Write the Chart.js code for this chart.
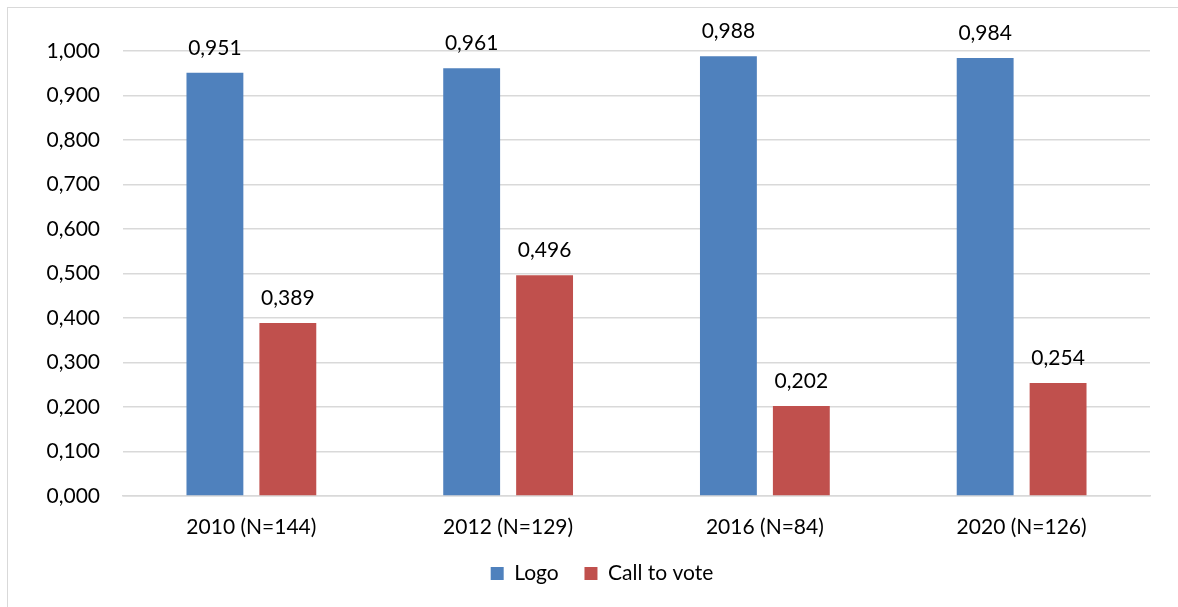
<!DOCTYPE html>
<html>
<head>
<meta charset="utf-8">
<script src="https://cdn.jsdelivr.net/npm/chart.js@4.4.1/dist/chart.umd.min.js"></script>
<style>
  html, body { margin: 0; padding: 0; background: #fff; overflow: hidden; }
  #wrap { position: relative; width: 1178px; height: 607px; }
  #frame { position: absolute; left: 7px; top: 7px; width: 1200px; height: 700px;
           border: 1px solid #d9d9d9; box-sizing: border-box; pointer-events: none; }
  canvas { position: absolute; left: 0; top: 0; }
</style>
</head>
<body>
<div id="wrap">
  <canvas id="c" width="1178" height="607"></canvas>
  <div id="frame"></div>
</div>
<script>
// Share of posts per election year
const categories = ['2010 (N=144)', '2012 (N=129)', '2016 (N=84)', '2020 (N=126)'];
const logoValues = [0.951, 0.961, 0.988, 0.984];
const callToVoteValues = [0.389, 0.496, 0.202, 0.254];
const seriesNames = ['Logo', 'Call to vote'];

const FONT = 'Lato, "Open Sans", sans-serif';
const FSIZE = 21;
const fmt = v => v.toFixed(3).replace('.', ',');

// Draws the value above each bar
const valueLabels = {
  id: 'valueLabels',
  afterDatasetsDraw(chart) {
    const ctx = chart.ctx;
    ctx.save();
    ctx.font = FSIZE + 'px ' + FONT;
    ctx.fillStyle = '#000';
    ctx.textAlign = 'center';
    ctx.textBaseline = 'middle';
    chart.data.datasets.forEach((ds, i) => {
      chart.getDatasetMeta(i).data.forEach((bar, j) => {
        ctx.fillText(fmt(ds.data[j]), bar.x, bar.y - 25);
      });
    });
    ctx.restore();
  }
};

// Nudges the legend so it sits centred under the plot area
const legendShift = {
  id: 'legendShift',
  afterLayout(chart) {
    const lg = chart.legend;
    if (lg) { lg.left += 27; lg.right += 27; }
  }
};

new Chart(document.getElementById('c'), {
  type: 'bar',
  data: {
    labels: categories,
    datasets: [
      { label: seriesNames[0], data: logoValues, backgroundColor: '#4f81bd' },
      { label: seriesNames[1], data: callToVoteValues, backgroundColor: '#c0504d' }
    ]
  },
  options: {
    responsive: false,
    animation: false,
    devicePixelRatio: 1,
    layout: { padding: { left: 0, right: 28, top: 51, bottom: 13 } },
    datasets: { bar: { categoryPercentage: 0.568, barPercentage: 0.78 } },
    plugins: {
      legend: {
        position: 'bottom',
        labels: {
          font: { family: FONT, size: FSIZE },
          color: '#000',
          boxWidth: 13,
          boxHeight: 13,
          padding: 10,
          // wider gap between the two legend entries
          generateLabels(chart) {
            const items = Chart.defaults.plugins.legend.labels.generateLabels(chart);
            items.forEach((it, i) => {
              if (i < items.length - 1) it.text = it.text + '\u2003';
            });
            return items;
          }
        }
      },
      tooltip: { enabled: false }
    },
    scales: {
      x: {
        grid: { display: false, drawTicks: false },
        border: { color: '#d9d9d9', width: 1.5 },
        ticks: { font: { family: FONT, size: FSIZE }, color: '#000', padding: 19 },
        afterFit(s) { s.height = 57; }
      },
      y: {
        min: 0,
        max: 1,
        ticks: {
          stepSize: 0.1,
          font: { family: FONT, size: FSIZE },
          color: '#000',
          padding: 23,
          callback: v => fmt(v)
        },
        grid: { color: '#d9d9d9', lineWidth: 1.5, drawTicks: false },
        border: { display: false },
        afterFit(s) { s.width = 123; }
      }
    }
  },
  plugins: [valueLabels, legendShift]
});
</script>
</body>
</html>
